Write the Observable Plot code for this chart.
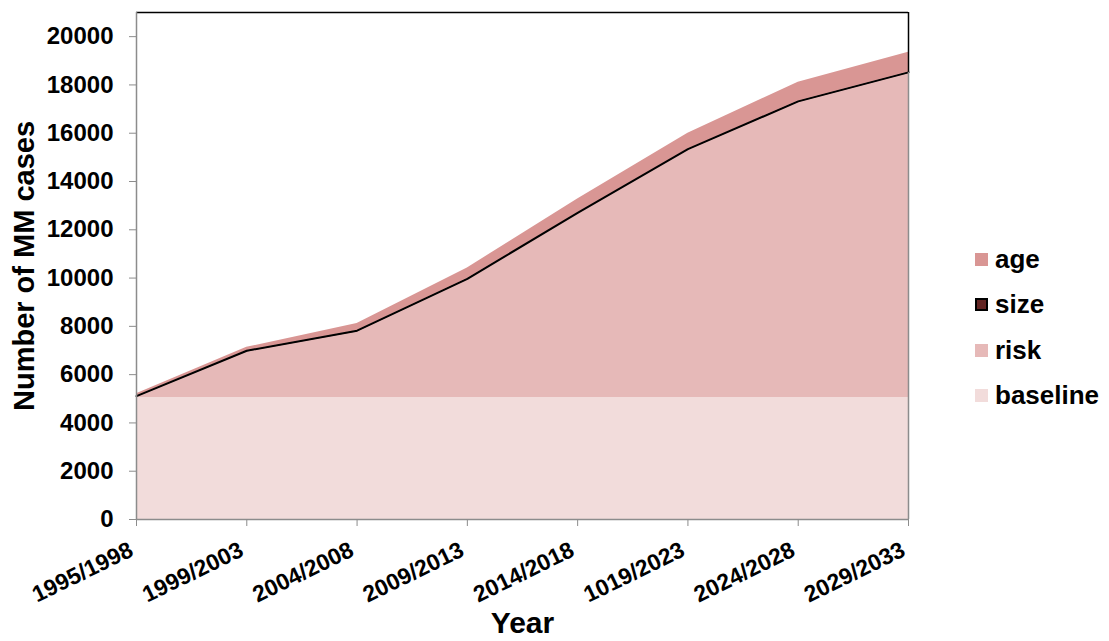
<!DOCTYPE html>
<html><head><meta charset="utf-8">
<script src="https://cdn.jsdelivr.net/npm/d3@7"></script>
<script src="https://cdn.jsdelivr.net/npm/@observablehq/plot@0.6"></script>
<style>
body{margin:0;background:#fff;font-family:"Liberation Sans",Arial,sans-serif;}
#wrap{position:relative;width:1109px;height:641px;overflow:hidden;}
.lg{position:absolute;left:975px;display:flex;align-items:center;font-weight:bold;font-size:26px;color:#000;line-height:1;}
.sw{width:13px;height:13px;margin-right:7px;box-sizing:border-box;}
</style></head><body><div id="wrap"></div>
<script>
const periods = ["1995/1998","1999/2003","2004/2008","2009/2013","2014/2018","1019/2023","2024/2028","2029/2033"];
const baseline = [5050,5050,5050,5050,5050,5050,5050,5050];
const risk     = [10,1890,2720,4870,7600,10240,12220,13420];
const size     = [50,50,50,50,50,50,50,50];
const age      = [100,140,300,450,570,660,790,830];
const seriesNames  = ["baseline","risk","size","age"];
const seriesColors = ["#F2DCDB","#E6B9B8","#632523","#D99694"];
const legendOrder  = ["age","size","risk","baseline"];
const legendTops   = [246,291,337,382];
const yTicks = [0,2000,4000,6000,8000,10000,12000,14000,16000,18000,20000];
const yMax = 21000;

const seriesData = {baseline, risk, size, age};
const rows = [];
periods.forEach((p, i) => {
  seriesNames.forEach(s => rows.push({i, series: s, value: seriesData[s][i]}));
});
const lineTop = periods.map((p, i) => ({i, value: baseline[i] + risk[i] + size[i]}));
const last = lineTop[lineTop.length - 1];

const chart = Plot.plot({
  width: 1109, height: 641,
  marginLeft: 136, marginRight: 201, marginTop: 12, marginBottom: 122,
  style: {fontFamily: "'Liberation Sans', Arial, sans-serif", background: "#fff"},
  x: {domain: [0, periods.length - 1]},
  y: {domain: [0, yMax]},
  color: {domain: seriesNames, range: seriesColors},
  marks: [
    Plot.areaY(rows, {x: "i", y: "value", z: "series", fill: "series", order: seriesNames}),
    Plot.lineY(lineTop, {x: "i", y: "value", stroke: "black", strokeWidth: 2}),
    Plot.ruleX([last], {x: "i", y1: 0, y2: "value", stroke: "#8c8c8c", strokeWidth: 1.5}),
    Plot.ruleX([last], {x: "i", y1: "value", y2: yMax, stroke: "black", strokeWidth: 1.5}),
    Plot.ruleY([yMax], {stroke: "black", strokeWidth: 1.5}),
    Plot.ruleX([0], {stroke: "#8c8c8c", strokeWidth: 1.5}),
    Plot.ruleY([0], {stroke: "#8c8c8c", strokeWidth: 1.5}),
    Plot.axisY({ticks: yTicks, tickSize: 7, tickPadding: 16, tickFormat: d => String(d),
      fontSize: 24, fontWeight: "bold", stroke: "#8c8c8c", fill: "black", label: null}),
    Plot.axisX({ticks: periods.map((p, i) => i), tickFormat: i => periods[i], tickRotate: -26,
      tickSize: 7, tickPadding: 20, fontSize: 23, fontWeight: "bold", stroke: "#8c8c8c", fill: "black", label: null,
      textStroke: null}),
    Plot.text(["Number of MM cases"], {frameAnchor: "left", dx: -112, rotate: -90, textAnchor: "middle",
      fontSize: 29, fontWeight: "bold", fill: "black"}),
    Plot.text(["Year"], {frameAnchor: "bottom", dy: 113, fontSize: 30, fontWeight: "bold", fill: "black"})
  ]
});
// nudge rotated x tick labels slightly left so they end at the tick, as in the reference
const wrap = document.getElementById("wrap");
wrap.appendChild(chart);
chart.querySelectorAll("g[aria-label='x-axis tick label']").forEach(g => {
  g.setAttribute("transform", (g.getAttribute("transform") || "") + " translate(-5,2)");
});
legendOrder.forEach((name, k) => {
  const d = document.createElement("div");
  d.className = "lg";
  d.style.top = legendTops[k] + "px";
  const sw = document.createElement("span");
  sw.className = "sw";
  sw.style.background = seriesColors[seriesNames.indexOf(name)];
  if (name === "size") sw.style.border = "2px solid #000";
  d.appendChild(sw);
  const t = document.createElement("span");
  t.textContent = name;
  d.appendChild(t);
  wrap.appendChild(d);
});
</script></body></html>
